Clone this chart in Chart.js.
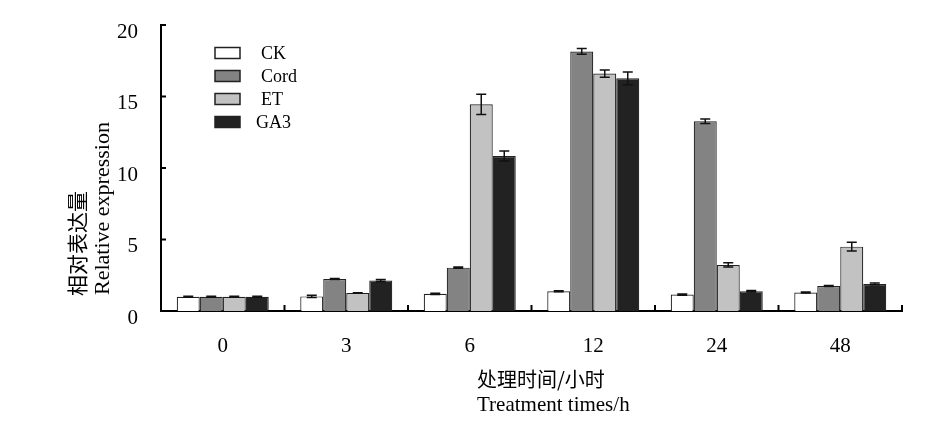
<!DOCTYPE html>
<html>
<head>
<meta charset="utf-8">
<script src="https://cdn.jsdelivr.net/npm/chart.js@4.4.1/dist/chart.umd.min.js"></script>
<style>
html,body{margin:0;padding:0;background:#fff;}
#wrap{width:946px;height:433px;position:relative;}
</style>
</head>
<body>
<div id="wrap"><canvas id="c"></canvas></div>
<script>
const categories = ['0', '3', '6', '12', '24', '48'];
const seriesNames = ['CK', 'Cord', 'ET', 'GA3'];
const ckValues   = [1.0, 1.02, 1.2, 1.38, 1.15, 1.29];
const cordValues = [1.0, 2.24, 3.03, 18.15, 13.27, 1.75];
const etValues   = [1.0, 1.26, 14.45, 16.6, 3.22, 4.5];
const ga3Values  = [1.0, 2.14, 10.84, 16.27, 1.38, 1.89];
const ckErrors   = [0.03, 0.08, 0.04, 0.04, 0.04, 0.03];
const cordErrors = [0.03, 0.04, 0.04, 0.2, 0.15, 0.03];
const etErrors   = [0.03, 0.02, 0.7, 0.25, 0.15, 0.3];
const ga3Errors  = [0.03, 0.07, 0.35, 0.45, 0.05, 0.06];
const yTicks = [0, 5, 10, 15, 20];
const yTitleLines = ['相对表达量', 'Relative expression'];
const xTitleLines = ['处理时间/小时', 'Treatment times/h'];

const fills = ['#ffffff', '#838383', '#c2c2c2', '#222222'];
const serif = '"Liberation Serif", "Times New Roman", serif';
const cjk = '"Noto Sans CJK SC", sans-serif';

const valueSets = [ckValues, cordValues, etValues, ga3Values];
const errorSets = [ckErrors, cordErrors, etErrors, ga3Errors];

const errorBarPlugin = {
  id: 'errorBars',
  afterDatasetsDraw(chart) {
    const ctx = chart.ctx, y = chart.scales.y;
    ctx.save();
    ctx.strokeStyle = '#111';
    ctx.lineWidth = 1.5;
    chart.data.datasets.forEach((ds, i) => {
      const meta = chart.getDatasetMeta(i);
      meta.data.forEach((bar, j) => {
        const v = ds.data[j], e = errorSets[i][j];
        const yt = y.getPixelForValue(v + e), yb = y.getPixelForValue(v - e);
        const x = bar.x, cap = 5;
        ctx.beginPath();
        ctx.moveTo(x, yt); ctx.lineTo(x, yb);
        ctx.moveTo(x - cap, yt); ctx.lineTo(x + cap, yt);
        ctx.moveTo(x - cap, yb); ctx.lineTo(x + cap, yb);
        ctx.stroke();
      });
    });
    ctx.restore();
  }
};

const decorPlugin = {
  id: 'decor',
  afterDraw(chart) {
    const ctx = chart.ctx, xs = chart.scales.x, ys = chart.scales.y, a = chart.chartArea;
    ctx.save();
    // inward y ticks
    ctx.strokeStyle = '#000';
    ctx.lineWidth = 2;
    yTicks.forEach(t => {
      const py = ys.getPixelForValue(t);
      ctx.beginPath(); ctx.moveTo(a.left, py); ctx.lineTo(a.left + 5, py); ctx.stroke();
    });
    // upward x ticks at category boundaries
    for (let j = 1; j <= categories.length; j++) {
      const px = xs.getPixelForValue(j - 0.5);
      ctx.beginPath(); ctx.moveTo(px, a.bottom); ctx.lineTo(px, a.bottom - 6); ctx.stroke();
    }
    // legend
    chart.data.datasets.forEach((ds, i) => {
      const bx = a.left + 54, cy = a.top + 28 + i * 23;
      ctx.fillStyle = ds.backgroundColor;
      ctx.fillRect(bx, cy - 5.5, 25, 11);
      ctx.strokeStyle = '#222'; ctx.lineWidth = 1.5;
      ctx.strokeRect(bx, cy - 5.5, 25, 11);
      ctx.fillStyle = '#000';
      ctx.font = '18px ' + serif;
      ctx.textBaseline = 'middle';
      ctx.textAlign = 'left';
      ctx.fillText(ds.label, bx + (ds.label === 'GA3' ? 41 : 46), cy + 1);
    });
    // y title (rotated, bottom aligned)
    ctx.fillStyle = '#000';
    ctx.save();
    ctx.translate(77, 296);
    ctx.rotate(-Math.PI / 2);
    ctx.textAlign = 'left'; ctx.textBaseline = 'middle';
    ctx.font = '21px ' + cjk;
    ctx.fillText(yTitleLines[0], 0, 0);
    ctx.restore();
    ctx.save();
    ctx.translate(103, 295);
    ctx.rotate(-Math.PI / 2);
    ctx.textAlign = 'left'; ctx.textBaseline = 'middle';
    ctx.font = '22px ' + serif;
    ctx.fillText(yTitleLines[1], 0, 0);
    ctx.restore();
    // x title
    ctx.textAlign = 'left'; ctx.textBaseline = 'middle';
    ctx.font = '20px ' + cjk;
    ctx.fillText(xTitleLines[0], 477, 379);
    ctx.font = '21px ' + serif;
    ctx.fillText(xTitleLines[1], 477, 405);
    ctx.restore();
  }
};

new Chart(document.getElementById('c'), {
  type: 'bar',
  data: {
    labels: categories,
    datasets: seriesNames.map((n, i) => ({
      label: n,
      data: valueSets[i],
      backgroundColor: fills[i],
      borderColor: '#222',
      borderWidth: 1.2,
      categoryPercentage: 0.745,
      barPercentage: 1.0
    }))
  },
  options: {
    responsive: true,
    maintainAspectRatio: false,
    animation: false,
    layout: { padding: { left: 0, top: 25, right: 44, bottom: 0 } },
    plugins: { legend: { display: false }, tooltip: { enabled: false } },
    scales: {
      x: {
        grid: { display: false },
        border: { display: true, color: '#000', width: 2 },
        ticks: { color: '#000', font: { family: serif, size: 21 }, padding: 15, maxRotation: 0 },
        afterFit(s) { s.height = 122; }
      },
      y: {
        min: 0, max: 20,
        grid: { display: false },
        border: { display: true, color: '#000', width: 2 },
        afterBuildTicks(s) { s.ticks = yTicks.map(v => ({ value: v })); },
        ticks: { color: '#000', font: { family: serif, size: 21, lineHeight: 0.4 }, padding: 15, labelOffset: 7 },
        afterFit(s) { s.width = 161; }
      }
    }
  },
  plugins: [errorBarPlugin, decorPlugin]
});
</script>
</body>
</html>
